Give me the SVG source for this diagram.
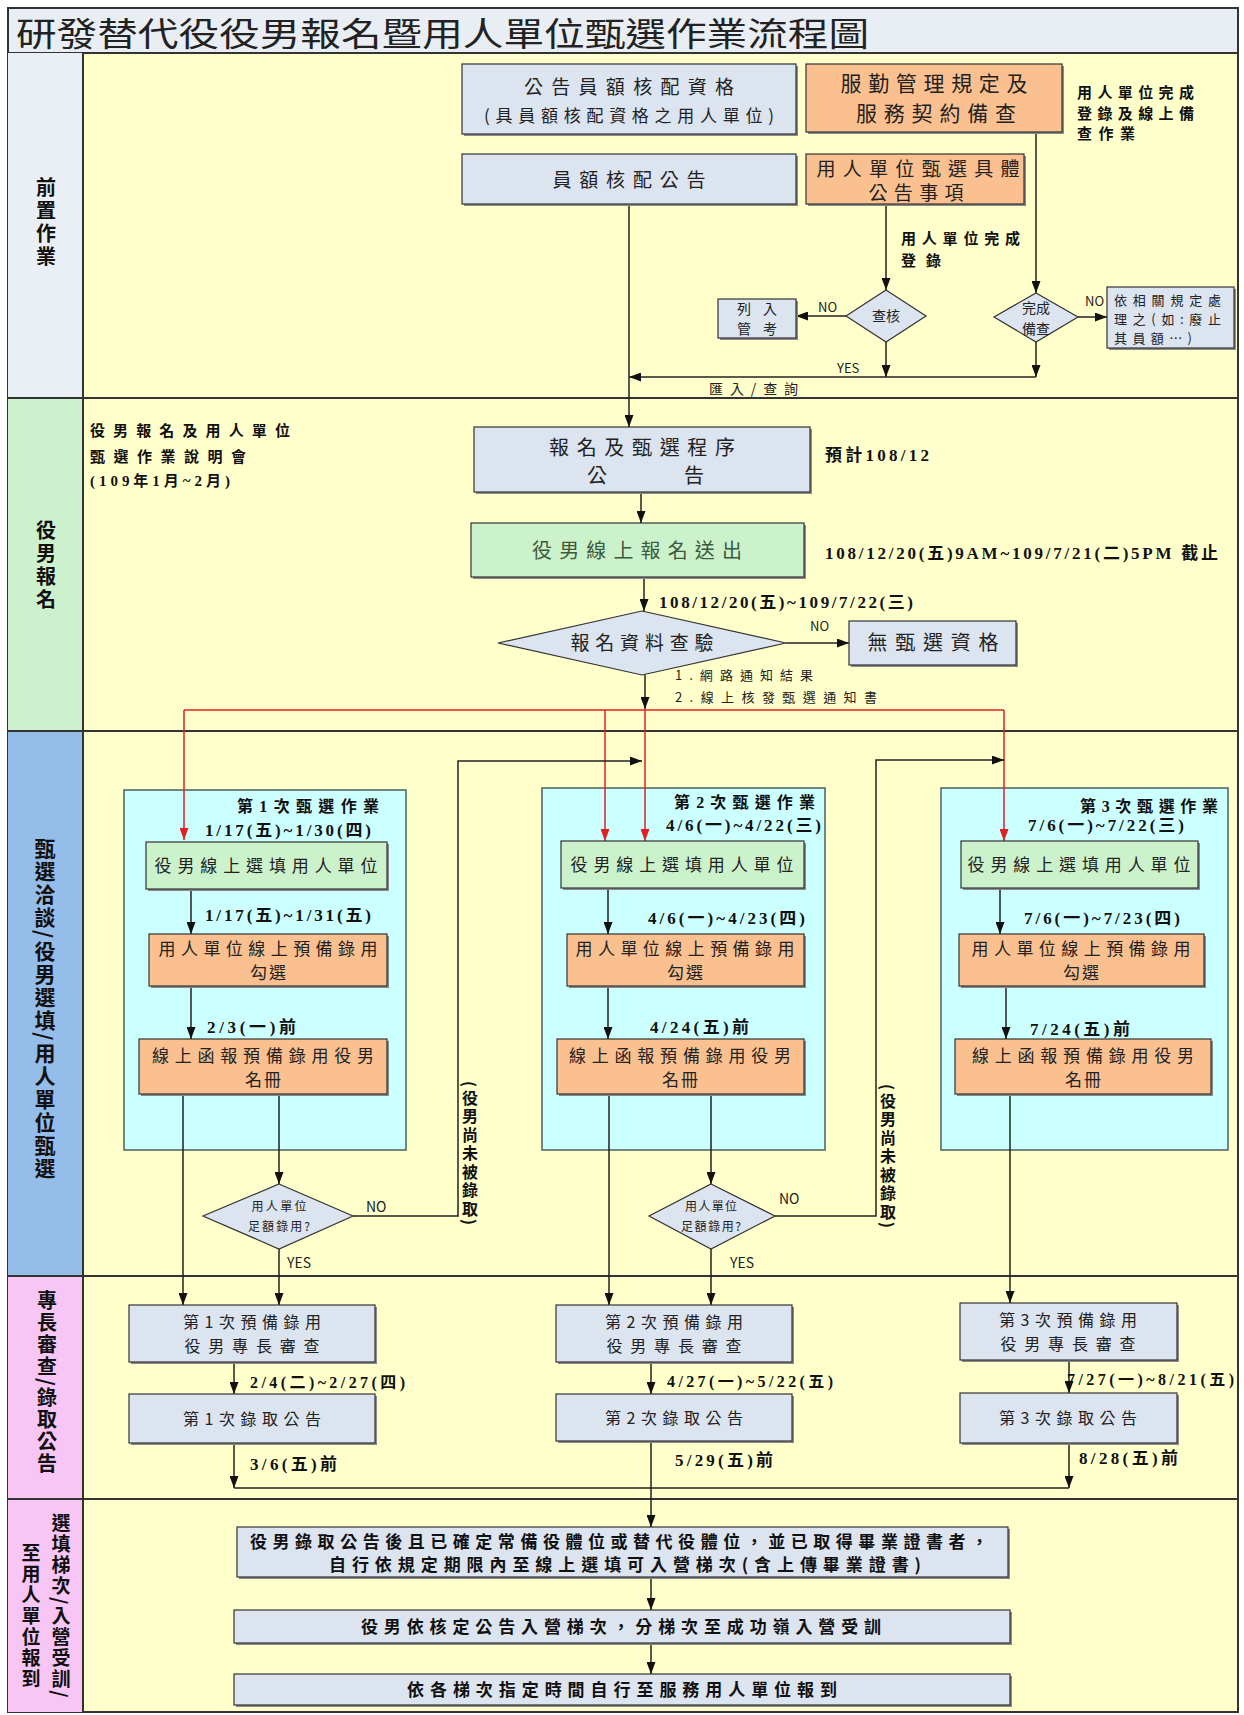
<svg xmlns="http://www.w3.org/2000/svg" width="1244" height="1715" viewBox="0 0 1244 1715">
<style>
.t{font-family:"Noto Sans CJK TC","Noto Sans CJK SC",sans-serif;fill:#222}
.c{text-anchor:middle}
.b{font-family:"Liberation Serif","Noto Sans CJK TC",serif;font-weight:bold;fill:#111}
.cb{font-family:"Noto Sans CJK TC",sans-serif;font-weight:bold;fill:#111}
.v{writing-mode:vertical-rl}
.box{stroke:#333;stroke-width:1.2}
.gray{fill:#dce4f0}.org{fill:#fac090}.grn{fill:#ccf2cc}.cyan{fill:#ccffff;stroke:#4d5f5f;stroke-width:1.5}
.sh{fill:#8a8a8a}
.ln{stroke:#222;stroke-width:1.5;fill:none}
.red{stroke:#e02020;stroke-width:1.5;fill:none}
.lane{stroke:#333;stroke-width:2}
</style>
<defs>
<marker id="ah" viewBox="0 0 12 9" refX="12" refY="4.5" markerWidth="12" markerHeight="9" markerUnits="userSpaceOnUse" orient="auto"><path d="M0,0 L12,4.5 L0,9 z" fill="#111"/></marker>
<marker id="ahr" viewBox="0 0 12 9" refX="12" refY="4.5" markerWidth="12" markerHeight="9" markerUnits="userSpaceOnUse" orient="auto"><path d="M0,0 L12,4.5 L0,9 z" fill="#e02020"/></marker>
</defs>

<!-- background / lanes -->
<g id="frame">
<rect x="0" y="0" width="1244" height="1715" fill="#ffffff"/>
<rect x="8" y="8" width="1230" height="1704" fill="#ffffcc" stroke="#333" stroke-width="2"/>
<rect x="8" y="8" width="1230" height="45" fill="#e9eef4" stroke="#333" stroke-width="2"/>
<rect x="8" y="53" width="75" height="345" fill="#eaeff5"/>
<rect x="8" y="398" width="75" height="333" fill="#cdf0cd"/>
<rect x="8" y="731" width="75" height="545" fill="#94bdea"/>
<rect x="8" y="1276" width="75" height="223" fill="#f7c6f5"/>
<rect x="8" y="1499" width="75" height="213" fill="#f7c6f5"/>
<line class="lane" x1="83" y1="53" x2="83" y2="1712"/>
<line class="lane" x1="8" y1="398" x2="1238" y2="398"/>
<line class="lane" x1="8" y1="731" x2="1238" y2="731"/>
<line class="lane" x1="8" y1="1276" x2="1238" y2="1276"/>
<line class="lane" x1="8" y1="1499" x2="1238" y2="1499"/>
<text class="t" x="16" y="46" font-size="33" textLength="853" lengthAdjust="spacingAndGlyphs">研發替代役役男報名暨用人單位甄選作業流程圖</text>
<text class="cb v" x="46" y="177" font-size="20" letter-spacing="3">前置作業</text>
<text class="cb v" x="46" y="520" font-size="20" letter-spacing="3">役男報名</text>
<text class="cb v" x="45" y="838" font-size="21" letter-spacing="2">甄選洽談/役男選填/用人單位甄選</text>
<text class="cb v" x="47" y="1290" font-size="20" letter-spacing="2">專長審查/錄取公告</text>
<text class="cb v" x="61" y="1513" font-size="19" letter-spacing="2">選填梯次/入營受訓/</text>
<text class="cb v" x="31" y="1543" font-size="19" letter-spacing="2">至用人單位報到</text>
</g>

<!-- group boxes -->
<g id="round1"><rect class="cyan" x="124" y="790" width="282" height="360"/>
<text class="b" x="237" y="812" font-size="16" textLength="142">第1次甄選作業</text>
<text class="b" x="205" y="836" font-size="17" textLength="166">1/17(五)~1/30(四)</text></g>
<g id="round2"><rect class="cyan" x="542" y="788" width="283" height="362"/>
<text class="b" x="674" y="808" font-size="16" textLength="141">第2次甄選作業</text>
<text class="b" x="666" y="831" font-size="17" textLength="155">4/6(一)~4/22(三)</text></g>
<g id="round3"><rect class="cyan" x="941" y="788" width="287" height="362"/>
<text class="b" x="1080" y="812" font-size="16" textLength="138">第3次甄選作業</text>
<text class="b" x="1028" y="831" font-size="17" textLength="156">7/6(一)~7/22(三)</text></g>

<!-- connectors -->
<g id="connectors">
<path class="ln" d="M629,204 V427" marker-end="url(#ah)"/>
<path class="ln" d="M886,204 V290" marker-end="url(#ah)"/>
<path class="ln" d="M1036,132 V293" marker-end="url(#ah)"/>
<path class="ln" d="M846,316 H796" marker-end="url(#ah)"/>
<path class="ln" d="M1078,317 H1107" marker-end="url(#ah)"/>
<path class="ln" d="M886,342 V377" marker-end="url(#ah)"/>
<path class="ln" d="M1036,342 V377" marker-end="url(#ah)"/>
<path class="ln" d="M1036,377 H629" marker-end="url(#ah)"/>
<path class="ln" d="M641,492 V523" marker-end="url(#ah)"/>
<path class="ln" d="M644,577 V611" marker-end="url(#ah)"/>
<path class="ln" d="M786,643 H849" marker-end="url(#ah)"/>
<path class="ln" d="M645,675 V709" marker-end="url(#ah)"/>
<path class="red" d="M184,710 H1004"/>
<path class="red" d="M184,710 V840" marker-end="url(#ahr)"/>
<path class="red" d="M605,710 V841" marker-end="url(#ahr)"/>
<path class="red" d="M645,710 V841" marker-end="url(#ahr)"/>
<path class="red" d="M1004,710 V841" marker-end="url(#ahr)"/>
<path class="ln" d="M191,889 V934" marker-end="url(#ah)"/>
<path class="ln" d="M191,986 V1039" marker-end="url(#ah)"/>
<path class="ln" d="M183,1094 V1305" marker-end="url(#ah)"/>
<path class="ln" d="M279,1094 V1184" marker-end="url(#ah)"/>
<path class="ln" d="M279,1249 V1305" marker-end="url(#ah)"/>
<path class="ln" d="M353,1216 H458 V761 H642" marker-end="url(#ah)"/>
<path class="ln" d="M608,888 V934" marker-end="url(#ah)"/>
<path class="ln" d="M608,986 V1039" marker-end="url(#ah)"/>
<path class="ln" d="M609,1094 V1305" marker-end="url(#ah)"/>
<path class="ln" d="M711,1094 V1184" marker-end="url(#ah)"/>
<path class="ln" d="M711,1249 V1305" marker-end="url(#ah)"/>
<path class="ln" d="M775,1216 H876 V760 H1004" marker-end="url(#ah)"/>
<path class="ln" d="M1000,888 V934" marker-end="url(#ah)"/>
<path class="ln" d="M1006,986 V1039" marker-end="url(#ah)"/>
<path class="ln" d="M1010,1094 V1303" marker-end="url(#ah)"/>
<path class="ln" d="M234,1362 V1394" marker-end="url(#ah)"/>
<path class="ln" d="M651,1362 V1394" marker-end="url(#ah)"/>
<path class="ln" d="M1069,1360 V1393" marker-end="url(#ah)"/>
<path class="ln" d="M234,1443 V1488" marker-end="url(#ah)"/>
<path class="ln" d="M1069,1443 V1488" marker-end="url(#ah)"/>
<path class="ln" d="M234,1488 H1069"/>
<path class="ln" d="M651,1441 V1527" marker-end="url(#ah)"/>
<path class="ln" d="M651,1577 V1610" marker-end="url(#ah)"/>
<path class="ln" d="M651,1643 V1674" marker-end="url(#ah)"/>
<text class="t" x="818" y="312" font-size="13">NO</text>
<text class="t" x="1085" y="306" font-size="13">NO</text>
<text class="t" x="837" y="373" font-size="13">YES</text>
<text class="t" x="709" y="394" font-size="14" textLength="89">匯入/查詢</text>
<text class="t" x="810" y="631" font-size="13">NO</text>
<text class="t" x="675" y="680" font-size="13" textLength="138">1.網路通知結果</text>
<text class="t" x="675" y="702" font-size="13" textLength="202">2.線上核發甄選通知書</text>
<text class="b" x="659" y="608" font-size="17" textLength="254">108/12/20(五)~109/7/22(三)</text>
<text class="b" x="205" y="921" font-size="17" textLength="166">1/17(五)~1/31(五)</text>
<text class="b" x="207" y="1033" font-size="17" textLength="89">2/3(一)前</text>
<text class="b" x="648" y="924" font-size="17" textLength="157">4/6(一)~4/23(四)</text>
<text class="b" x="650" y="1033" font-size="17" textLength="99">4/24(五)前</text>
<text class="b" x="1024" y="924" font-size="17" textLength="156">7/6(一)~7/23(四)</text>
<text class="b" x="1030" y="1035" font-size="17" textLength="100">7/24(五)前</text>
<text class="t" x="366" y="1212" font-size="14" font-family="Liberation Serif">NO</text>
<text class="t" x="779" y="1204" font-size="14" font-family="Liberation Serif">NO</text>
<text class="t" x="287" y="1268" font-size="14" font-family="Liberation Serif">YES</text>
<text class="t" x="730" y="1268" font-size="14" font-family="Liberation Serif">YES</text>
<text class="cb v" x="470" y="1081" font-size="16" letter-spacing="2.5">(役男尚未被錄取)</text>
<text class="cb v" x="888" y="1084" font-size="16" letter-spacing="2.5">(役男尚未被錄取)</text>
<text class="b" x="250" y="1388" font-size="16" textLength="155">2/4(二)~2/27(四)</text>
<text class="b" x="667" y="1387" font-size="16" textLength="166">4/27(一)~5/22(五)</text>
<text class="b" x="1067" y="1385" font-size="16" textLength="167">7/27(一)~8/21(五)</text>
<text class="b" x="250" y="1470" font-size="17" textLength="87">3/6(五)前</text>
<text class="b" x="675" y="1466" font-size="17" textLength="98">5/29(五)前</text>
<text class="b" x="1079" y="1464" font-size="17" textLength="99">8/28(五)前</text>
</g>

<!-- lane 1 nodes -->
<g id="n_quota"><rect class="sh" x="464" y="66" width="334" height="70"/><rect class="box gray" x="462" y="64" width="334" height="70"/>
<text class="t c" x="629" y="94" font-size="19" textLength="210">公告員額核配資格</text>
<text class="t c" x="629" y="122" font-size="17" textLength="290">(具員額核配資格之用人單位)</text></g>
<g id="n_service"><rect class="sh" x="808" y="66" width="256" height="68"/><rect class="box org" x="806" y="64" width="256" height="68"/>
<text class="t c" x="934" y="91" font-size="21" textLength="187">服勤管理規定及</text>
<text class="t c" x="936" y="121" font-size="21" textLength="160">服務契約備查</text></g>
<text class="cb" x="1077" y="98" font-size="15" textLength="117">用人單位完成</text>
<text class="cb" x="1077" y="119" font-size="15" textLength="117">登錄及線上備</text>
<text class="cb" x="1077" y="139" font-size="15" textLength="58">查作業</text>
<g id="n_announce"><rect class="sh" x="464" y="156" width="334" height="50"/><rect class="box gray" x="462" y="154" width="334" height="50"/>
<text class="t c" x="629" y="187" font-size="19" textLength="153">員額核配公告</text></g>
<g id="n_unitnotice"><rect class="sh" x="808" y="156" width="218" height="50"/><rect class="box org" x="806" y="154" width="218" height="50"/>
<text class="t c" x="918" y="176" font-size="19" textLength="203">用人單位甄選具體</text>
<text class="t c" x="916" y="200" font-size="19" textLength="95">公告事項</text></g>
<text class="cb" x="901" y="244" font-size="15" textLength="119">用人單位完成</text>
<text class="cb" x="901" y="266" font-size="15" textLength="40">登錄</text>
<g id="d_check"><polygon class="box gray" points="886,290 926,316 886,342 846,316"/>
<text class="t c" x="886" y="321" font-size="14">查核</text></g>
<g id="n_track"><rect class="sh" x="720" y="301" width="78" height="39"/><rect class="box gray" x="718" y="299" width="78" height="39"/>
<text class="t c" x="757" y="314" font-size="14" textLength="40">列入</text>
<text class="t c" x="757" y="334" font-size="14" textLength="40">管考</text></g>
<g id="d_filed"><polygon class="box gray" points="1036,293 1078,317 1036,342 994,317"/>
<text class="t c" x="1036" y="313" font-size="14">完成</text>
<text class="t c" x="1036" y="334" font-size="14">備查</text></g>
<g id="n_rules"><rect class="sh" x="1109" y="289" width="127" height="61"/><rect class="box gray" x="1107" y="287" width="127" height="61"/>
<text class="t" x="1114" y="305" font-size="13" textLength="107">依相關規定處</text>
<text class="t" x="1114" y="324" font-size="13" textLength="107">理之(如:廢止</text>
<text class="t" x="1114" y="343" font-size="13" textLength="78">其員額…)</text></g>

<!-- lane 2 nodes -->
<text class="cb" x="90" y="436" font-size="15" textLength="200">役男報名及用人單位</text>
<text class="cb" x="90" y="462" font-size="15" textLength="156">甄選作業說明會</text>
<text class="b" x="90" y="486" font-size="15" textLength="140">(109年1月~2月)</text>
<g id="n_procedure"><rect class="sh" x="476" y="429" width="336" height="65"/><rect class="box gray" x="474" y="427" width="336" height="65"/>
<text class="t c" x="642" y="455" font-size="20" textLength="186">報名及甄選程序</text>
<text class="t c" x="597" y="483" font-size="20">公</text>
<text class="t c" x="694" y="483" font-size="20">告</text></g>
<text class="b" x="825" y="461" font-size="17" textLength="104">預計108/12</text>
<g id="n_register"><rect class="sh" x="473" y="525" width="333" height="54"/><rect class="box grn" x="471" y="523" width="333" height="54"/>
<text class="t c" x="637" y="558" font-size="20" textLength="210" style="fill:#3d5a3d">役男線上報名送出</text></g>
<text class="b" x="825" y="559" font-size="17" textLength="393">108/12/20(五)9AM~109/7/21(二)5PM 截止</text>
<g id="d_verify"><polygon class="box gray" points="642,611 786,643 642,675 498,643"/>
<text class="t c" x="642" y="650" font-size="19" textLength="143">報名資料查驗</text></g>
<g id="n_noqual"><rect class="sh" x="851" y="623" width="167" height="44"/><rect class="box gray" x="849" y="621" width="167" height="44"/>
<text class="t c" x="933" y="650" font-size="20" textLength="131">無甄選資格</text></g>

<!-- lane 3 nodes -->
<g id="r1_pick"><rect class="sh" x="148" y="844" width="241" height="47"/><rect class="box grn" x="146" y="842" width="241" height="47"/>
<text class="t c" x="266" y="872" font-size="17" textLength="223">役男線上選填用人單位</text></g>
<g id="r1_unit"><rect class="sh" x="151" y="936" width="238" height="52"/><rect class="box org" x="149" y="934" width="238" height="52"/>
<text class="t c" x="268" y="955" font-size="17" textLength="219">用人單位線上預備錄用</text>
<text class="t c" x="268" y="979" font-size="17" textLength="36">勾選</text></g>
<g id="r1_list"><rect class="sh" x="141" y="1041" width="248" height="55"/><rect class="box org" x="139" y="1039" width="248" height="55"/>
<text class="t c" x="263" y="1062" font-size="17" textLength="222">線上函報預備錄用役男</text>
<text class="t c" x="263" y="1086" font-size="17" textLength="36">名冊</text></g>
<g id="r1_enough"><polygon class="box gray" points="279,1184 353,1216 279,1249 203,1216"/>
<text class="t c" x="279" y="1211" font-size="12" textLength="55">用人單位</text>
<text class="t c" x="279" y="1231" font-size="12" textLength="62">足額錄用?</text></g>

<g id="r2_pick"><rect class="sh" x="563" y="843" width="243" height="47"/><rect class="box grn" x="561" y="841" width="243" height="47"/>
<text class="t c" x="682" y="871" font-size="17" textLength="223">役男線上選填用人單位</text></g>
<g id="r2_unit"><rect class="sh" x="569" y="936" width="237" height="52"/><rect class="box org" x="567" y="934" width="237" height="52"/>
<text class="t c" x="685" y="955" font-size="17" textLength="219">用人單位線上預備錄用</text>
<text class="t c" x="685" y="979" font-size="17" textLength="36">勾選</text></g>
<g id="r2_list"><rect class="sh" x="559" y="1041" width="247" height="55"/><rect class="box org" x="557" y="1039" width="247" height="55"/>
<text class="t c" x="680" y="1062" font-size="17" textLength="222">線上函報預備錄用役男</text>
<text class="t c" x="680" y="1086" font-size="17" textLength="36">名冊</text></g>
<g id="r2_enough"><polygon class="box gray" points="711,1184 775,1216 711,1249 649,1216"/>
<text class="t c" x="711" y="1211" font-size="12" textLength="52">用人單位</text>
<text class="t c" x="711" y="1231" font-size="12" textLength="60">足額錄用?</text></g>

<g id="r3_pick"><rect class="sh" x="963" y="843" width="237" height="47"/><rect class="box grn" x="961" y="841" width="237" height="47"/>
<text class="t c" x="1079" y="871" font-size="17" textLength="223">役男線上選填用人單位</text></g>
<g id="r3_unit"><rect class="sh" x="961" y="936" width="245" height="52"/><rect class="box org" x="959" y="934" width="245" height="52"/>
<text class="t c" x="1081" y="955" font-size="17" textLength="219">用人單位線上預備錄用</text>
<text class="t c" x="1081" y="979" font-size="17" textLength="36">勾選</text></g>
<g id="r3_list"><rect class="sh" x="957" y="1041" width="256" height="55"/><rect class="box org" x="955" y="1039" width="256" height="55"/>
<text class="t c" x="1083" y="1062" font-size="17" textLength="222">線上函報預備錄用役男</text>
<text class="t c" x="1083" y="1086" font-size="17" textLength="36">名冊</text></g>

<!-- lane 4 nodes -->
<g id="p1"><rect class="sh" x="131" y="1307" width="246" height="57"/><rect class="box gray" x="129" y="1305" width="246" height="57"/>
<text class="t c" x="252" y="1328" font-size="16" textLength="138">第1次預備錄用</text>
<text class="t c" x="252" y="1352" font-size="16" textLength="135">役男專長審查</text></g>
<g id="p2"><rect class="sh" x="558" y="1307" width="236" height="57"/><rect class="box gray" x="556" y="1305" width="236" height="57"/>
<text class="t c" x="674" y="1328" font-size="16" textLength="138">第2次預備錄用</text>
<text class="t c" x="674" y="1352" font-size="16" textLength="135">役男專長審查</text></g>
<g id="p3"><rect class="sh" x="962" y="1305" width="217" height="57"/><rect class="box gray" x="960" y="1303" width="217" height="57"/>
<text class="t c" x="1068" y="1326" font-size="16" textLength="138">第3次預備錄用</text>
<text class="t c" x="1068" y="1350" font-size="16" textLength="135">役男專長審查</text></g>
<g id="a1"><rect class="sh" x="131" y="1396" width="246" height="49"/><rect class="box gray" x="129" y="1394" width="246" height="49"/>
<text class="t c" x="252" y="1425" font-size="16" textLength="138">第1次錄取公告</text></g>
<g id="a2"><rect class="sh" x="558" y="1396" width="236" height="47"/><rect class="box gray" x="556" y="1394" width="236" height="47"/>
<text class="t c" x="674" y="1424" font-size="16" textLength="138">第2次錄取公告</text></g>
<g id="a3"><rect class="sh" x="962" y="1395" width="217" height="50"/><rect class="box gray" x="960" y="1393" width="217" height="50"/>
<text class="t c" x="1068" y="1424" font-size="16" textLength="138">第3次錄取公告</text></g>

<!-- lane 5 nodes -->
<g id="s1"><rect class="sh" x="239" y="1529" width="771" height="50"/><rect class="box gray" x="237" y="1527" width="771" height="50"/>
<text class="cb c" x="619" y="1548" font-size="17" textLength="738">役男錄取公告後且已確定常備役體位或替代役體位，並已取得畢業證書者，</text>
<text class="cb c" x="625" y="1571" font-size="17" textLength="592">自行依規定期限內至線上選填可入營梯次(含上傳畢業證書)</text></g>
<g id="s2"><rect class="sh" x="236" y="1612" width="776" height="33"/><rect class="box gray" x="234" y="1610" width="776" height="33"/>
<text class="cb c" x="621" y="1633" font-size="17" textLength="520">役男依核定公告入營梯次，分梯次至成功嶺入營受訓</text></g>
<g id="s3"><rect class="sh" x="236" y="1676" width="776" height="31"/><rect class="box gray" x="234" y="1674" width="776" height="31"/>
<text class="cb c" x="622" y="1696" font-size="17" textLength="430">依各梯次指定時間自行至服務用人單位報到</text></g>
</svg>
